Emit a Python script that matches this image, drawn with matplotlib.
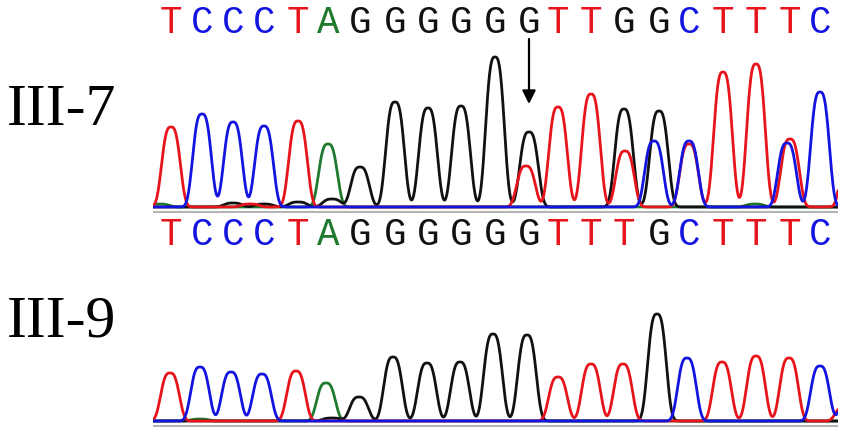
import numpy as np
import matplotlib
matplotlib.use("Agg")
import matplotlib.pyplot as plt
import matplotlib.transforms as mtransforms

# base colours used by the sequencer software
base_colors = {"A": "#1f7a2e", "C": "#1414e0", "G": "#111111", "T": "#e8141c"}

# ---- III-7 (heterozygous sample) ----
top_calls_upper = "TCCCTAGGGGGGTTGGCTTTC"
top_calls_lower = "TCCCTAGGGGGGTTTGCTTTC"
top_pos = [171, 202, 233, 264, 298, 328, 360, 395, 428, 461, 495,
           529, 558, 591, 624, 659, 689, 723, 756, 790, 820]
top_heights = [80, 93, 85, 81, 86, 63, 40, 105, 99, 101, 150,
               75, 100, 113, 98, 96, 66, 135, 143, 68, 115]
# secondary / background peaks: (position, base, height)
top_extra = [(526, "T", 41), (625, "T", 56), (654, "C", 66), (689, "T", 63),
             (787, "C", 64), (850, "T", 60), (233, "G", 4), (264, "G", 3),
             (298, "G", 5), (332, "G", 8), (250, "T", 3), (160, "A", 3),
             (755, "A", 3)]

# ---- III-9 ----
bot_calls = "TCCCTAGGGGGGTTTGCTTTC"
bot_pos = [170, 200, 231, 262, 296, 326, 359, 393, 427, 460, 493,
           527, 558, 591, 623, 657, 687, 722, 756, 789, 820]
bot_heights = [48, 54, 49, 47, 50, 38, 24, 64, 58, 59, 87,
               86, 44, 57, 57, 107, 63, 59, 65, 63, 55]
bot_extra = [(332, "G", 3), (200, "A", 2), (845, "T", 15), (850, "C", 30)]

mutation_index = 11
panel_labels = ["III-7", "III-9"]

scan = np.linspace(153, 838, 2000)


def traces(pos, calls, heights, extra):
    sig = {b: np.zeros_like(scan) for b in "ACGT"}
    peaks = list(zip(pos, calls, heights)) + list(extra)
    for c, b, h in peaks:
        sig[b] += h * np.exp(-(np.abs(scan - c) / 11.0) ** 3)
    return sig


def draw_panel(ax, sig):
    for b in "AGTC":
        ax.plot(scan, sig[b], color=base_colors[b], lw=2.0,
                solid_capstyle="round")
    ax.axhline(-4.5, color="#b4b4b4", lw=1.5, zorder=0)
    ax.set_xlim(153, 838)
    ax.set_ylim(-6, 158)
    ax.axis("off")


def draw_calls(ax, pos, calls, y):
    trans = mtransforms.blended_transform_factory(ax.transData, ax.transAxes)
    for x, b in zip(pos, calls):
        ax.text(x, y, b, transform=trans, ha="center", va="baseline",
                fontsize=27, family="Liberation Mono",
                color=base_colors[b], clip_on=False)


fig = plt.figure(figsize=(8.51, 4.39), dpi=100)
ax_top = fig.add_axes([153 / 851, 1 - 214 / 439, 685 / 851, 164 / 439])
ax_bot = fig.add_axes([153 / 851, 1 - 428 / 439, 685 / 851, 164 / 439])

draw_panel(ax_top, traces(top_pos, top_calls_upper, top_heights, top_extra))
draw_panel(ax_bot, traces(bot_pos, bot_calls, bot_heights, bot_extra))

draw_calls(ax_top, top_pos, top_calls_upper, 1.104)
draw_calls(ax_top, top_pos, top_calls_lower, -0.189)

# arrow at the heterozygous position
xm = top_pos[mutation_index]
ax_top.annotate("", xy=(xm, 103), xytext=(xm, 168),
                arrowprops=dict(arrowstyle="-|>", color="black", lw=1.6,
                                mutation_scale=20, shrinkA=0, shrinkB=0),
                annotation_clip=False)

fig.text(7 / 851, 1 - 125 / 439, panel_labels[0], fontsize=43,
         family="Liberation Serif", va="baseline", ha="left")
fig.text(7 / 851, 1 - 337 / 439, panel_labels[1], fontsize=43,
         family="Liberation Serif", va="baseline", ha="left")

fig.savefig("out.png", dpi=100)
